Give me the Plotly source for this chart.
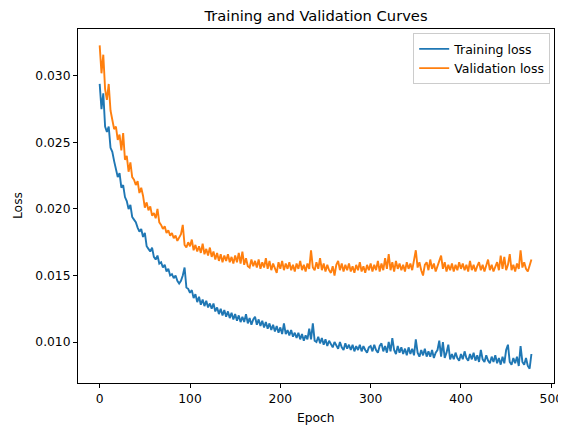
import plotly.graph_objects as go

# epochs sampled every 2 (0..478)
epochs = list(range(0, 480, 2))

train_loss = [
    0.0294, 0.0275, 0.0287, 0.0262, 0.0258, 0.0262, 0.0246, 0.0243, 0.0236, 0.0230,
    0.0224, 0.0227, 0.0216, 0.0218, 0.0209, 0.0206, 0.0200, 0.0203, 0.0194, 0.0192,
    0.0190, 0.0186, 0.0183, 0.0185, 0.0179, 0.0182, 0.0172, 0.0170, 0.0168, 0.0171,
    0.0164, 0.0162, 0.0165, 0.0159, 0.0160, 0.0156, 0.0158, 0.0153, 0.0155, 0.0150,
    0.0151, 0.0148, 0.0150, 0.0146, 0.0144, 0.0146, 0.0150, 0.0156, 0.0141, 0.0140,
    0.0137, 0.0139, 0.0133, 0.0136, 0.0130, 0.0134, 0.0128, 0.0132, 0.0127, 0.0131,
    0.0126, 0.0129, 0.0125, 0.0129, 0.0123, 0.0126, 0.0121, 0.0125, 0.0120, 0.0124,
    0.0119, 0.0123, 0.0118, 0.0122, 0.0117, 0.0121, 0.0116, 0.0120, 0.0115, 0.0119,
    0.0115, 0.0121, 0.0114, 0.0118, 0.0113, 0.0117, 0.0119, 0.0113, 0.0117, 0.0112,
    0.0116, 0.0111, 0.0115, 0.0110, 0.0114, 0.0109, 0.0113, 0.0108, 0.0112, 0.0107,
    0.0111, 0.0106, 0.0114, 0.0106, 0.0109, 0.0105, 0.0109, 0.0104, 0.0107, 0.0103,
    0.0107, 0.0102, 0.0106, 0.0101, 0.0105, 0.0102, 0.0110, 0.0102, 0.0114, 0.0101,
    0.0100, 0.0104, 0.0099, 0.0103, 0.0098, 0.0102, 0.0097, 0.0101, 0.0099, 0.0096,
    0.0100, 0.0097, 0.0095, 0.0100, 0.0096, 0.0094, 0.0099, 0.0095, 0.0098, 0.0094,
    0.0098, 0.0093, 0.0097, 0.0094, 0.0098, 0.0093, 0.0097, 0.0094, 0.0092, 0.0096,
    0.0097, 0.0093, 0.0098, 0.0094, 0.0092, 0.0097, 0.0099, 0.0093, 0.0097, 0.0092,
    0.0100, 0.0093, 0.0103, 0.0094, 0.0091, 0.0097, 0.0092, 0.0096, 0.0091, 0.0095,
    0.0090, 0.0096, 0.0091, 0.0095, 0.0090, 0.0102, 0.0092, 0.0089, 0.0094, 0.0090,
    0.0095, 0.0089, 0.0093, 0.0089, 0.0094, 0.0088, 0.0092, 0.0094, 0.0101, 0.0089,
    0.0100, 0.0088, 0.0092, 0.0098, 0.0087, 0.0091, 0.0087, 0.0092, 0.0088, 0.0086,
    0.0091, 0.0087, 0.0093, 0.0088, 0.0086, 0.0091, 0.0087, 0.0092, 0.0086, 0.0090,
    0.0085, 0.0094, 0.0087, 0.0085, 0.0090, 0.0086, 0.0084, 0.0089, 0.0085, 0.0090,
    0.0084, 0.0088, 0.0083, 0.0089, 0.0084, 0.0094, 0.0098, 0.0085, 0.0083, 0.0088,
    0.0084, 0.0089, 0.0082, 0.0097, 0.0085, 0.0083, 0.0088, 0.0082, 0.0080, 0.0091,
]

val_loss = [
    0.0323, 0.0302, 0.0316, 0.0290, 0.0282, 0.0294, 0.0274, 0.0268, 0.0260, 0.0262,
    0.0252, 0.0256, 0.0244, 0.0257, 0.0237, 0.0240, 0.0228, 0.0235, 0.0224, 0.0222,
    0.0218, 0.0221, 0.0212, 0.0216, 0.0210, 0.0201, 0.0205, 0.0199, 0.0202, 0.0195,
    0.0197, 0.0193, 0.0200, 0.0190, 0.0188, 0.0185, 0.0187, 0.0182, 0.0184, 0.0180,
    0.0182, 0.0178, 0.0180, 0.0176, 0.0178, 0.0181, 0.0188, 0.0173, 0.0171, 0.0175,
    0.0172, 0.0177, 0.0169, 0.0173, 0.0168, 0.0172, 0.0167, 0.0174, 0.0166, 0.0170,
    0.0165, 0.0171, 0.0164, 0.0168, 0.0162, 0.0167, 0.0161, 0.0166, 0.0160, 0.0165,
    0.0161, 0.0166, 0.0160, 0.0164, 0.0159, 0.0165, 0.0160, 0.0167, 0.0159, 0.0168,
    0.0158, 0.0163, 0.0157, 0.0156, 0.0162, 0.0157, 0.0161, 0.0156, 0.0162, 0.0155,
    0.0160, 0.0156, 0.0163, 0.0155, 0.0161, 0.0154, 0.0159, 0.0155, 0.0152, 0.0160,
    0.0155, 0.0161, 0.0154, 0.0159, 0.0155, 0.0160, 0.0154, 0.0158, 0.0153, 0.0159,
    0.0155, 0.0161, 0.0154, 0.0158, 0.0153, 0.0159, 0.0155, 0.0169, 0.0156, 0.0154,
    0.0160, 0.0155, 0.0163, 0.0154, 0.0159, 0.0153, 0.0158, 0.0154, 0.0152, 0.0157,
    0.0150, 0.0158, 0.0161, 0.0154, 0.0159, 0.0153, 0.0158, 0.0154, 0.0159, 0.0153,
    0.0157, 0.0152, 0.0158, 0.0154, 0.0160, 0.0153, 0.0157, 0.0152, 0.0158, 0.0154,
    0.0159, 0.0153, 0.0158, 0.0154, 0.0161, 0.0153, 0.0159, 0.0154, 0.0163, 0.0155,
    0.0166, 0.0154, 0.0160, 0.0153, 0.0161, 0.0155, 0.0159, 0.0154, 0.0158, 0.0153,
    0.0160, 0.0155, 0.0159, 0.0154, 0.0161, 0.0169, 0.0156, 0.0160, 0.0154, 0.0150,
    0.0158, 0.0160, 0.0154, 0.0162, 0.0155, 0.0159, 0.0153, 0.0158, 0.0161, 0.0165,
    0.0155, 0.0160, 0.0153, 0.0158, 0.0154, 0.0159, 0.0153, 0.0158, 0.0154, 0.0160,
    0.0155, 0.0159, 0.0154, 0.0158, 0.0153, 0.0161, 0.0154, 0.0158, 0.0153, 0.0157,
    0.0160, 0.0154, 0.0158, 0.0153, 0.0157, 0.0162, 0.0154, 0.0158, 0.0153, 0.0157,
    0.0160, 0.0154, 0.0165, 0.0155, 0.0164, 0.0154, 0.0158, 0.0166, 0.0154, 0.0158,
    0.0153, 0.0159, 0.0155, 0.0169, 0.0156, 0.0160, 0.0155, 0.0153, 0.0157, 0.0162,
]

x_ticks = [0, 100, 200, 300, 400, 500]
y_ticks = [0.010, 0.015, 0.020, 0.025, 0.030]

FONT = "DejaVu Sans"

fig = go.Figure()
fig.add_trace(go.Scatter(
    x=epochs, y=train_loss, mode="lines", name="Training loss",
    line=dict(color="#1f77b4", width=1.9),
))
fig.add_trace(go.Scatter(
    x=epochs, y=val_loss, mode="lines", name="Validation loss",
    line=dict(color="#ff7f0e", width=1.9),
))

axis_style = dict(
    showgrid=False, zeroline=False, showline=True, linecolor="black",
    linewidth=1, mirror=True, ticks="outside", ticklen=4, tickwidth=1,
    tickcolor="black", tickfont=dict(family=FONT, size=12.3, color="black"),
    automargin=False,
)

# the page body keeps its 8px margin, so the figure is shifted by 8px
fig.update_layout(
    width=558, height=421,
    margin=dict(l=70, r=12, t=21, b=46),
    plot_bgcolor="white", paper_bgcolor="white",
    font=dict(family=FONT, size=12.3, color="black"),
    title=dict(text="Training and Validation Curves", x=0.552, xanchor="center",
               y=0.981, yanchor="middle", font=dict(family=FONT, size=14.7)),
    legend=dict(x=0.992, y=0.988, xanchor="right", yanchor="top",
                bordercolor="#cccccc", borderwidth=1, bgcolor="rgba(255,255,255,0.8)",
                font=dict(family=FONT, size=12.5), tracegroupgap=0),
    showlegend=True,
)

# axis titles as annotations so they sit where matplotlib put them
fig.add_annotation(text="Epoch", xref="paper", yref="paper", x=0.5, y=-0.099,
                   xanchor="center", yanchor="middle", showarrow=False,
                   font=dict(family=FONT, size=12.3))
fig.add_annotation(text="Loss", xref="paper", yref="paper", x=-0.126, y=0.5,
                   xanchor="center", yanchor="middle", showarrow=False, textangle=-90,
                   font=dict(family=FONT, size=12.3))

fig.update_xaxes(range=[-24, 503], tickvals=x_ticks, **axis_style)
fig.update_yaxes(range=[0.00692, 0.03353], tickvals=y_ticks, tickformat=".3f",
                 **axis_style)

fig.write_html("out.html")
